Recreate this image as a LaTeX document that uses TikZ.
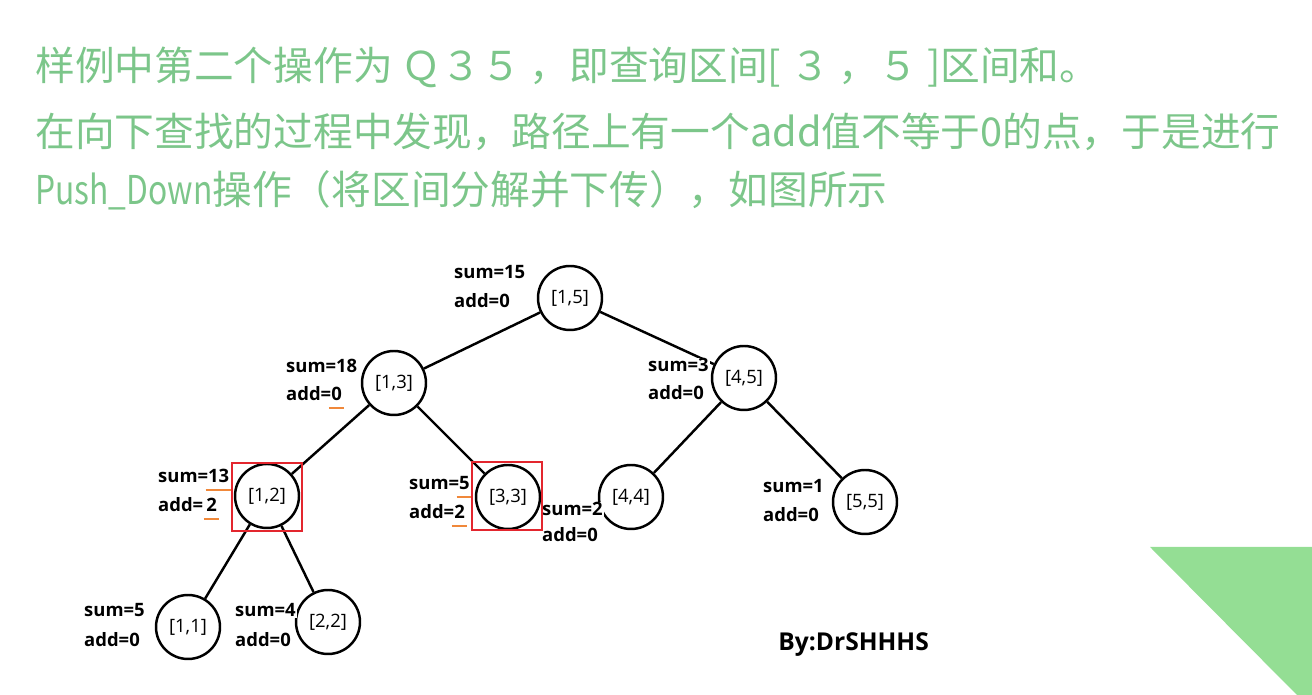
\documentclass[tikz,border=0pt]{standalone}
\usepackage{fontspec}
\usepackage{xcolor}
\setmainfont{Noto Sans CJK SC}
\newfontfamily\narrowfont{Noto Sans CJK SC}[FakeStretch=0.8]
\newfontfamily\lblfont{Open Sans}
\definecolor{titlegreen}{HTML}{7CC68A}
\definecolor{cornergreen}{HTML}{94DE94}
\definecolor{markorange}{HTML}{F0883A}
\definecolor{boxred}{HTML}{E3262E}
\newcommand{\orul}[1]{\setbox0=\hbox{#1}\rlap{\kern-0.05cm\color{markorange}\rule[-0.17cm]{\dimexpr\wd0+0.1cm\relax}{0.055cm}}\box0}

\begin{document}
\begin{tikzpicture}[
    x=0.02cm, y=-0.02cm,
    title/.style={anchor=west, inner sep=0pt, text=titlegreen, font=\fontsize{22.6pt}{27pt}\selectfont},
    seg/.style={draw, circle, line width=1.4pt, minimum size=1.28cm, inner sep=0pt, fill=white, font=\lblfont\fontsize{10.5pt}{12pt}\selectfont},
    lbl/.style={anchor=base west, inner sep=0.5pt, fill=white, font=\lblfont\bfseries\fontsize{10.5pt}{12pt}\selectfont},
    edge/.style={line width=1.4pt},
    redbox/.style={draw=boxred, line width=1.5pt, minimum width=1.4cm, minimum height=1.36cm},
]
\useasboundingbox (0,0) rectangle (1312,695);

% Corner decoration
\fill[cornergreen] (1150,547) -- (1312,547) -- (1312,695) -- (1297,695) -- cycle;

% Explanation text
\node[title] (line1) at (35,67) {样例中第二个操作为 Ｑ３５ ，即查询区间[ ３ ，５ ]区间和。};
\node[title] (line2) at (35,132) {在向下查找的过程中发现，路径上有一个add值不等于0的点，于是进行};
\node[title] (line3) at (35,190) {{\narrowfont Push\_Down}操作（将区间分解并下传），如图所示};

% Segment tree
\node[seg] (n15) at (570,298) {[1,5]};
\node[seg] (n13) at (394,383) {[1,3]};
\node[seg] (n45) at (744,378) {[4,5]};
\node[seg] (n12) at (267,496) {[1,2]};
\node[seg] (n33) at (508,497) {[3,3]};
\node[seg] (n44) at (631,497) {[4,4]};
\node[seg] (n55) at (865,502) {[5,5]};
\node[seg] (n11) at (188,627) {[1,1]};
\node[seg] (n22) at (328,622) {[2,2]};

\draw[edge] (n15) -- (n13);
\draw[edge] (n15) -- (n45);
\draw[edge] (n13) -- (n12);
\draw[edge] (n13) -- (n33);
\draw[edge] (n45) -- (n44);
\draw[edge] (n45) -- (n55);
\draw[edge] (n12) -- (n11);
\draw[edge] (n12) -- (n22);

% sum / add values (baselines)
\foreach \id/\x/\ys/\ya/\sv/\av in {
    15/453/279/308/15/0,
    13/285/373/401/18/{\orul{0}},
    45/647/372/400/3/0,
    12/157/483/512/{\orul{13}}/{\,\orul{2}},
    33/408/490/519/{\orul{5}}/{\orul{2}},
    44/541/516/542/2/0,
    55/762/493/522/1/0,
    11/83/617/646/5/0,
    22/234/617/646/4/0} {
    \node[lbl] (s\id) at (\x,\ys) {sum=\sv};
    \node[lbl] (a\id) at (\x,\ya) {add=\av};
}

% Pushed-down nodes
\node[redbox] (box12) at (267,497) {};
\node[redbox] (box33) at (507,496) {};

\node[anchor=west, inner sep=0pt, font=\lblfont\bfseries\fontsize{14pt}{16pt}\selectfont] (sign) at (778,645) {By:DrSHHHS};

\end{tikzpicture}
\end{document}
